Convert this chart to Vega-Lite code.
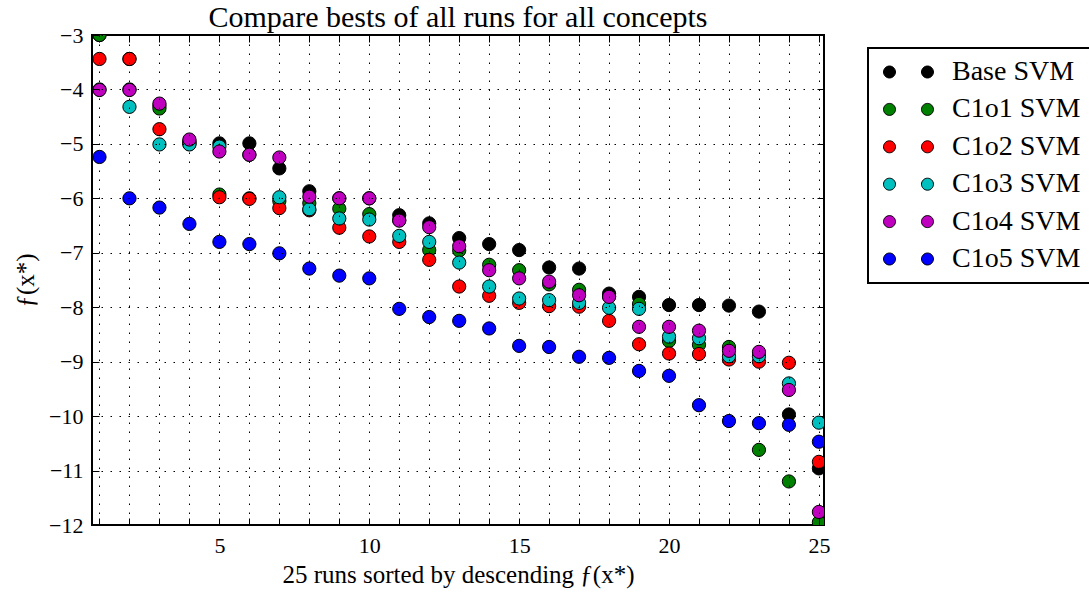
{
  "$schema": "https://vega.github.io/schema/vega-lite/v6.json",
  "width": 732,
  "height": 490,
  "autosize": {"type": "none"},
  "padding": {"left": 92, "top": 35, "right": 265, "bottom": 67},
  "background": "white",
  "title": {"text": "Compare bests of all runs for all concepts", "font": "Liberation Serif", "fontSize": 30, "fontWeight": "normal", "color": "black", "anchor": "middle", "offset": -9},
  "config": {
    "view": {"stroke": "black", "strokeWidth": 2},
    "font": "Liberation Serif"
  },
  "data": {"values": [
    {"run":1,"s":"Base SVM","f":-3.0},{"run":2,"s":"Base SVM","f":-3.44},{"run":3,"s":"Base SVM","f":-4.3},{"run":4,"s":"Base SVM","f":-4.95},{"run":5,"s":"Base SVM","f":-4.99},{"run":6,"s":"Base SVM","f":-4.99},{"run":7,"s":"Base SVM","f":-5.45},{"run":8,"s":"Base SVM","f":-5.87},{"run":9,"s":"Base SVM","f":-6.0},{"run":10,"s":"Base SVM","f":-6.0},{"run":11,"s":"Base SVM","f":-6.31},{"run":12,"s":"Base SVM","f":-6.46},{"run":13,"s":"Base SVM","f":-6.73},{"run":14,"s":"Base SVM","f":-6.84},{"run":15,"s":"Base SVM","f":-6.95},{"run":16,"s":"Base SVM","f":-7.27},{"run":17,"s":"Base SVM","f":-7.29},{"run":18,"s":"Base SVM","f":-7.75},{"run":19,"s":"Base SVM","f":-7.81},{"run":20,"s":"Base SVM","f":-7.96},{"run":21,"s":"Base SVM","f":-7.96},{"run":22,"s":"Base SVM","f":-7.97},{"run":23,"s":"Base SVM","f":-8.08},{"run":24,"s":"Base SVM","f":-9.97},{"run":25,"s":"Base SVM","f":-10.96},
    {"run":1,"s":"C1o1 SVM","f":-3.0},{"run":2,"s":"C1o1 SVM","f":-4.0},{"run":3,"s":"C1o1 SVM","f":-4.35},{"run":4,"s":"C1o1 SVM","f":-4.97},{"run":5,"s":"C1o1 SVM","f":-5.93},{"run":6,"s":"C1o1 SVM","f":-6.0},{"run":7,"s":"C1o1 SVM","f":-6.05},{"run":8,"s":"C1o1 SVM","f":-6.09},{"run":9,"s":"C1o1 SVM","f":-6.19},{"run":10,"s":"C1o1 SVM","f":-6.29},{"run":11,"s":"C1o1 SVM","f":-6.4},{"run":12,"s":"C1o1 SVM","f":-6.95},{"run":13,"s":"C1o1 SVM","f":-6.96},{"run":14,"s":"C1o1 SVM","f":-7.22},{"run":15,"s":"C1o1 SVM","f":-7.32},{"run":16,"s":"C1o1 SVM","f":-7.58},{"run":17,"s":"C1o1 SVM","f":-7.68},{"run":18,"s":"C1o1 SVM","f":-7.8},{"run":19,"s":"C1o1 SVM","f":-7.94},{"run":20,"s":"C1o1 SVM","f":-8.62},{"run":21,"s":"C1o1 SVM","f":-8.69},{"run":22,"s":"C1o1 SVM","f":-8.73},{"run":23,"s":"C1o1 SVM","f":-10.62},{"run":24,"s":"C1o1 SVM","f":-11.2},{"run":25,"s":"C1o1 SVM","f":-11.95},
    {"run":1,"s":"C1o2 SVM","f":-3.44},{"run":2,"s":"C1o2 SVM","f":-3.44},{"run":3,"s":"C1o2 SVM","f":-4.73},{"run":4,"s":"C1o2 SVM","f":-5.0},{"run":5,"s":"C1o2 SVM","f":-5.98},{"run":6,"s":"C1o2 SVM","f":-6.01},{"run":7,"s":"C1o2 SVM","f":-6.18},{"run":8,"s":"C1o2 SVM","f":-6.22},{"run":9,"s":"C1o2 SVM","f":-6.54},{"run":10,"s":"C1o2 SVM","f":-6.7},{"run":11,"s":"C1o2 SVM","f":-6.8},{"run":12,"s":"C1o2 SVM","f":-7.13},{"run":13,"s":"C1o2 SVM","f":-7.62},{"run":14,"s":"C1o2 SVM","f":-7.79},{"run":15,"s":"C1o2 SVM","f":-7.92},{"run":16,"s":"C1o2 SVM","f":-7.98},{"run":17,"s":"C1o2 SVM","f":-7.99},{"run":18,"s":"C1o2 SVM","f":-8.25},{"run":19,"s":"C1o2 SVM","f":-8.68},{"run":20,"s":"C1o2 SVM","f":-8.85},{"run":21,"s":"C1o2 SVM","f":-8.86},{"run":22,"s":"C1o2 SVM","f":-8.96},{"run":23,"s":"C1o2 SVM","f":-9.0},{"run":24,"s":"C1o2 SVM","f":-9.02},{"run":25,"s":"C1o2 SVM","f":-10.84},
    {"run":1,"s":"C1o3 SVM","f":-4.0},{"run":2,"s":"C1o3 SVM","f":-4.32},{"run":3,"s":"C1o3 SVM","f":-5.01},{"run":4,"s":"C1o3 SVM","f":-5.01},{"run":5,"s":"C1o3 SVM","f":-5.05},{"run":6,"s":"C1o3 SVM","f":-5.2},{"run":7,"s":"C1o3 SVM","f":-5.98},{"run":8,"s":"C1o3 SVM","f":-6.2},{"run":9,"s":"C1o3 SVM","f":-6.37},{"run":10,"s":"C1o3 SVM","f":-6.39},{"run":11,"s":"C1o3 SVM","f":-6.69},{"run":12,"s":"C1o3 SVM","f":-6.8},{"run":13,"s":"C1o3 SVM","f":-7.18},{"run":14,"s":"C1o3 SVM","f":-7.62},{"run":15,"s":"C1o3 SVM","f":-7.84},{"run":16,"s":"C1o3 SVM","f":-7.87},{"run":17,"s":"C1o3 SVM","f":-7.92},{"run":18,"s":"C1o3 SVM","f":-8.01},{"run":19,"s":"C1o3 SVM","f":-8.03},{"run":20,"s":"C1o3 SVM","f":-8.54},{"run":21,"s":"C1o3 SVM","f":-8.57},{"run":22,"s":"C1o3 SVM","f":-8.9},{"run":23,"s":"C1o3 SVM","f":-8.9},{"run":24,"s":"C1o3 SVM","f":-9.4},{"run":25,"s":"C1o3 SVM","f":-10.12},
    {"run":1,"s":"C1o4 SVM","f":-4.01},{"run":2,"s":"C1o4 SVM","f":-4.01},{"run":3,"s":"C1o4 SVM","f":-4.26},{"run":4,"s":"C1o4 SVM","f":-4.92},{"run":5,"s":"C1o4 SVM","f":-5.14},{"run":6,"s":"C1o4 SVM","f":-5.2},{"run":7,"s":"C1o4 SVM","f":-5.25},{"run":8,"s":"C1o4 SVM","f":-5.97},{"run":9,"s":"C1o4 SVM","f":-6.0},{"run":10,"s":"C1o4 SVM","f":-6.0},{"run":11,"s":"C1o4 SVM","f":-6.41},{"run":12,"s":"C1o4 SVM","f":-6.53},{"run":13,"s":"C1o4 SVM","f":-6.88},{"run":14,"s":"C1o4 SVM","f":-7.32},{"run":15,"s":"C1o4 SVM","f":-7.47},{"run":16,"s":"C1o4 SVM","f":-7.53},{"run":17,"s":"C1o4 SVM","f":-7.78},{"run":18,"s":"C1o4 SVM","f":-7.81},{"run":19,"s":"C1o4 SVM","f":-8.36},{"run":20,"s":"C1o4 SVM","f":-8.36},{"run":21,"s":"C1o4 SVM","f":-8.43},{"run":22,"s":"C1o4 SVM","f":-8.8},{"run":23,"s":"C1o4 SVM","f":-8.82},{"run":24,"s":"C1o4 SVM","f":-9.52},{"run":25,"s":"C1o4 SVM","f":-11.76},
    {"run":1,"s":"C1o5 SVM","f":-5.24},{"run":2,"s":"C1o5 SVM","f":-6.0},{"run":3,"s":"C1o5 SVM","f":-6.17},{"run":4,"s":"C1o5 SVM","f":-6.47},{"run":5,"s":"C1o5 SVM","f":-6.8},{"run":6,"s":"C1o5 SVM","f":-6.84},{"run":7,"s":"C1o5 SVM","f":-7.01},{"run":8,"s":"C1o5 SVM","f":-7.29},{"run":9,"s":"C1o5 SVM","f":-7.42},{"run":10,"s":"C1o5 SVM","f":-7.47},{"run":11,"s":"C1o5 SVM","f":-8.03},{"run":12,"s":"C1o5 SVM","f":-8.18},{"run":13,"s":"C1o5 SVM","f":-8.25},{"run":14,"s":"C1o5 SVM","f":-8.39},{"run":15,"s":"C1o5 SVM","f":-8.71},{"run":16,"s":"C1o5 SVM","f":-8.73},{"run":17,"s":"C1o5 SVM","f":-8.91},{"run":18,"s":"C1o5 SVM","f":-8.93},{"run":19,"s":"C1o5 SVM","f":-9.17},{"run":20,"s":"C1o5 SVM","f":-9.26},{"run":21,"s":"C1o5 SVM","f":-9.8},{"run":22,"s":"C1o5 SVM","f":-10.09},{"run":23,"s":"C1o5 SVM","f":-10.13},{"run":24,"s":"C1o5 SVM","f":-10.16},{"run":25,"s":"C1o5 SVM","f":-10.47}
  ]},
  "layer": [
    {
      "mark": {"type": "point", "filled": true, "size": 175, "stroke": "black", "strokeWidth": 1, "opacity": 1, "clip": true},
      "encoding": {
        "x": {"field": "run", "type": "quantitative",
          "scale": {"domain": [0.75, 25.17], "nice": false, "zero": false},
          "axis": {"orient": "bottom", "values": [1,2,3,4,5,6,7,8,9,10,11,12,13,14,15,16,17,18,19,20,21,22,23,24,25],
            "labelExpr": "datum.value % 5 === 0 ? datum.label : ''", "labelOverlap": false, "labelFlush": false,
            "grid": true, "gridDash": [1.5, 7.5], "gridColor": "black", "gridOpacity": 1, "gridWidth": 1,
            "domain": false, "tickSize": -7, "tickColor": "black", "tickWidth": 1,
            "labelFont": "Liberation Serif", "labelFontSize": 22, "labelColor": "black", "labelPadding": 17,
            "title": "25 runs sorted by descending ƒ(x*)", "titleFont": "Liberation Serif", "titleFontSize": 25, "titleFontWeight": "normal", "titleColor": "black", "titlePadding": 6,
            "zindex": 1}},
        "y": {"field": "f", "type": "quantitative",
          "scale": {"domain": [-12, -3], "nice": false, "zero": false},
          "axis": {"orient": "left", "values": [-12,-11,-10,-9,-8,-7,-6,-5,-4,-3],
            "labelOverlap": false, "labelFlush": false,
            "grid": true, "gridDash": [1.5, 7.5], "gridColor": "black", "gridOpacity": 1, "gridWidth": 1,
            "domain": false, "tickSize": -7, "tickColor": "black", "tickWidth": 1,
            "labelFont": "Liberation Serif", "labelFontSize": 22, "labelColor": "black", "labelPadding": 16,
            "title": "ƒ(x*)", "titleFont": "Liberation Serif", "titleFontSize": 25, "titleFontWeight": "normal", "titleColor": "black", "titlePadding": 10,
            "zindex": 1}},
        "color": {"field": "s", "type": "nominal",
          "scale": {"domain": ["Base SVM","C1o1 SVM","C1o2 SVM","C1o3 SVM","C1o4 SVM","C1o5 SVM"], "range": ["#000000","#008000","#ff0000","#00bfbf","#bf00bf","#0000ff"]},
          "sort": null,
          "legend": {"orient": "none", "legendX": 776, "legendY": 13, "title": null,
            "symbolType": "M -2.75,0 A 1,1 0 1,1 -0.75,0 A 1,1 0 1,1 -2.75,0 Z M 3.58,0 A 1,1 0 1,1 5.58,0 A 1,1 0 1,1 3.58,0 Z",
            "symbolSize": 144, "symbolOffset": 8, "symbolStrokeColor": "black", "symbolStrokeWidth": 1, "symbolOpacity": 1,
            "labelFont": "Liberation Serif", "labelFontSize": 28, "labelColor": "black", "labelOffset": 38, "labelLimit": 400,
            "padding": 10, "rowPadding": 9.4, "strokeColor": "black", "fillColor": "white",
            "encode": {"legend": {"update": {"strokeWidth": {"value": 2}}}}}}
      }
    },
    {
      "mark": {"type": "point", "opacity": 0},
      "encoding": {
        "x": {"field": "run", "type": "quantitative",
          "axis": {"orient": "top", "values": [1,2,3,4,5,6,7,8,9,10,11,12,13,14,15,16,17,18,19,20,21,22,23,24,25],
            "labels": false, "grid": false, "domain": false, "tickSize": -7, "tickColor": "black", "tickWidth": 1, "title": null}},
        "y": {"field": "f", "type": "quantitative",
          "axis": {"orient": "right", "values": [-12,-11,-10,-9,-8,-7,-6,-5,-4,-3],
            "labels": false, "grid": false, "domain": false, "tickSize": -7, "tickColor": "black", "tickWidth": 1, "title": null}}
      }
    }
  ],
  "resolve": {"axis": {"x": "independent", "y": "independent"}}
}
